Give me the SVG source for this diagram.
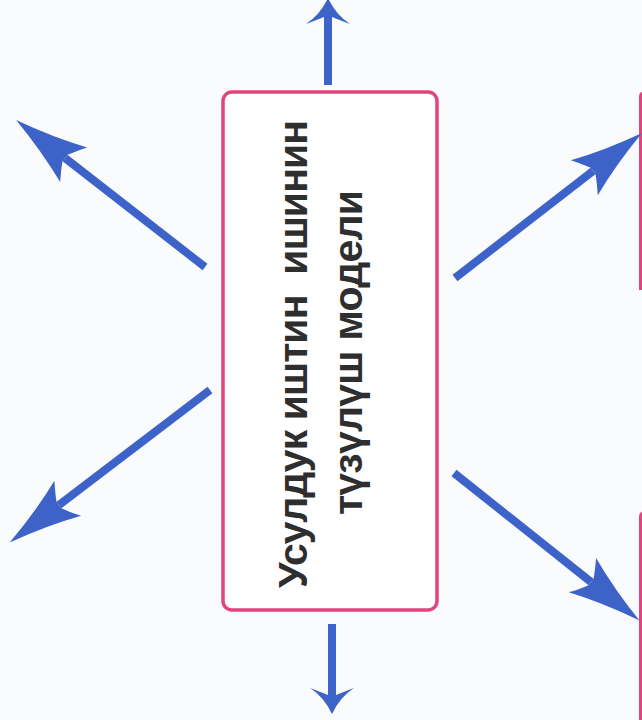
<svg xmlns="http://www.w3.org/2000/svg" width="642" height="720" viewBox="0 0 642 720">
  <style>
    .shaft { stroke: #3d63c9; stroke-width: 8; fill: none; stroke-linecap: butt; }
    .head { fill: #3d63c9; }
    .box { fill: #ffffff; stroke: #e2457b; stroke-width: 3.5; }
    .edge { fill: none; stroke: #e2457b; stroke-width: 3; }
    .label { font-family: "Liberation Sans", Arial, sans-serif; font-weight: bold; font-size: 41px; fill: #2e2e2e; text-anchor: middle; white-space: pre; }
  </style>
  <defs>
    <marker id="headD" markerUnits="userSpaceOnUse" orient="auto" refX="0" refY="0" markerWidth="100" markerHeight="100" overflow="visible">
      <path class="head" d="M 62,0 Q 22,-9 -11,-22 Q -3,-10 0,-4 L 0,4 Q -3,10 -11,22 Q 22,9 62,0 Z"/>
    </marker>
    <marker id="headV" markerUnits="userSpaceOnUse" orient="auto" refX="0" refY="0" markerWidth="60" markerHeight="60" overflow="visible">
      <path class="head" d="M 19,0 Q 2,-8 -7,-22 Q -2,-9 0,-4 L 0,4 Q -2,9 -7,22 Q 2,8 19,0 Z"/>
    </marker>
  </defs>
  <rect x="0" y="0" width="642" height="720" fill="#f9fbfd"/>

  <g id="right-edge-boxes">
    <path class="edge" d="M 644,93 Q 640.5,93 640.5,97 L 640.5,290"/>
    <path class="edge" d="M 644,513 Q 640.5,513 640.5,517 L 640.5,720"/>
  </g>

  <g id="center-node">
    <rect class="box" x="223" y="92" width="214" height="518" rx="9" ry="9"/>
    <text class="label" xml:space="preserve" transform="translate(307,354) rotate(-90)" x="0" y="0" textLength="468" lengthAdjust="spacing">Усулдук иштин  ишинин</text>
    <text class="label" transform="translate(362,352.5) rotate(-90)" x="0" y="0" textLength="325" lengthAdjust="spacing">түзүлүш модели</text>
  </g>

  <g id="connectors">
    <line class="shaft" x1="328" y1="85" x2="328" y2="17" marker-end="url(#headV)"/>
    <line class="shaft" x1="332" y1="624" x2="332" y2="695" marker-end="url(#headV)"/>
    <line class="shaft" x1="205" y1="267" x2="65" y2="158" marker-end="url(#headD)"/>
    <line class="shaft" x1="210" y1="390" x2="59" y2="505" marker-end="url(#headD)"/>
    <line class="shaft" x1="455" y1="278" x2="593" y2="171" marker-end="url(#headD)"/>
    <line class="shaft" x1="454" y1="473" x2="591" y2="582" marker-end="url(#headD)"/>
  </g>
</svg>
